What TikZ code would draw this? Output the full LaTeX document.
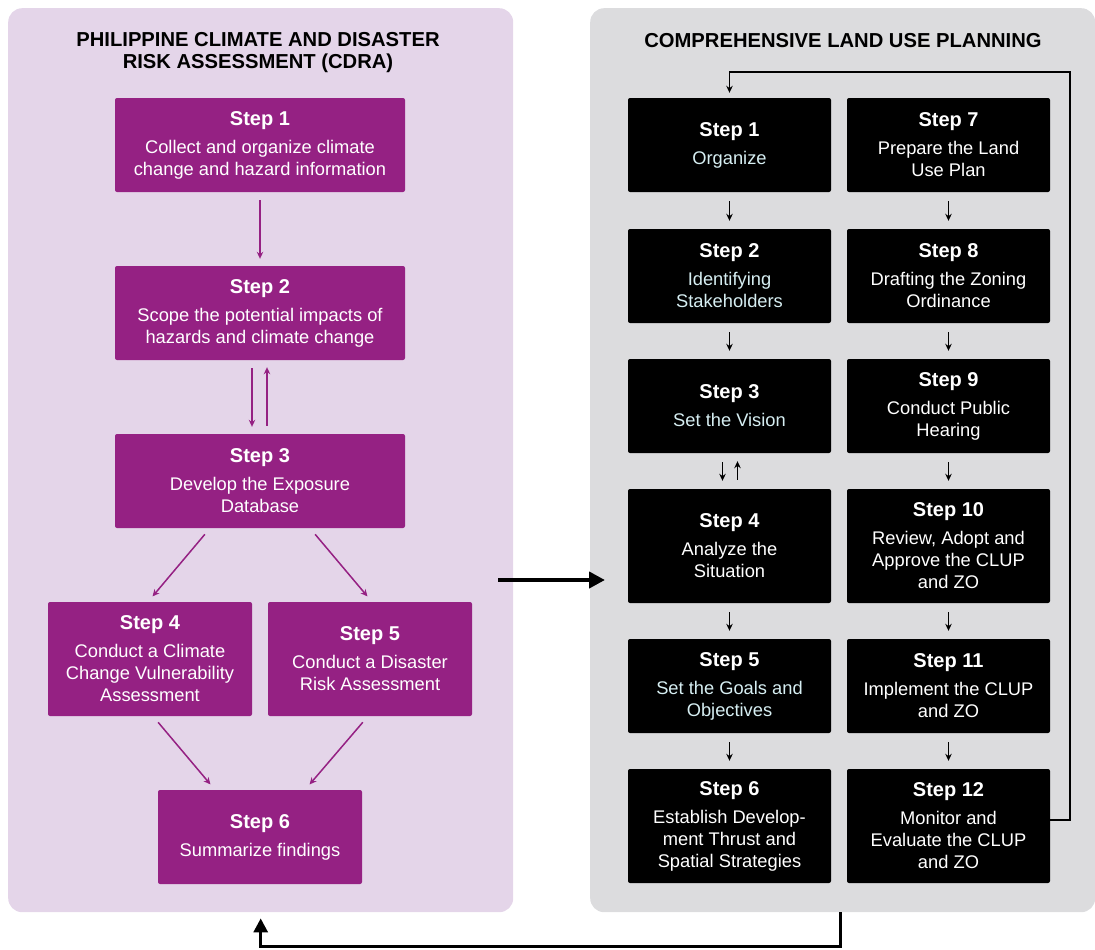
\documentclass[tikz,border=0pt]{standalone}
\usepackage{fontspec}
\setmainfont{Liberation Sans}
\usetikzlibrary{arrows.meta}

\definecolor{cdrapurple}{HTML}{952183}
\definecolor{cdrabg}{HTML}{E4D5E9}
\definecolor{clupbg}{HTML}{DCDCDE}
\definecolor{paleblue}{HTML}{D6EEF2}

\newcommand{\stepno}[1]{{\fontsize{20}{22}\selectfont\bfseries #1}\\[6pt]}

\begin{document}
\begin{tikzpicture}[x=1pt, y=-1pt, >={Stealth[length=7pt, width=6.5pt]},
  panel/.style={rounded corners=14pt, inner sep=0pt, anchor=north west},
  cdrastep/.style={fill=cdrapurple, text=white, rounded corners=2pt, inner sep=0pt,
    align=center, minimum width=#1, minimum height=94pt,
    font=\fontsize{18.3}{22}\selectfont},
  cdrastep/.default=290pt,
  clupstep/.style={fill=black, text=white, rounded corners=2pt, inner sep=0pt,
    align=center, minimum width=203pt, minimum height=#1,
    font=\fontsize{18.3}{22}\selectfont},
  clupstep/.default=94pt,
  cdraarrow/.style={->, draw=cdrapurple, line width=1.5pt, shorten <=8pt, shorten >=7pt},
  cluparrow/.style={->, line width=1.8pt, shorten <=9pt, shorten >=8pt},
  heading/.style={font=\fontsize{20.2}{22}\selectfont\bfseries, align=center}]

  \useasboundingbox (0,0) rectangle (1095,950);

  % panels
  \node[panel, fill=cdrabg, minimum width=505pt, minimum height=904pt] (cdra) at (8,8) {};
  \node[panel, fill=clupbg, minimum width=505pt, minimum height=904pt] (clup) at (590,8) {};

  \node[heading] (cdratitle) at (258,53) {PHILIPPINE CLIMATE AND DISASTER\\RISK ASSESSMENT (CDRA)};
  \node[heading] (cluptitle) at (843,41) {COMPREHENSIVE LAND USE PLANNING};

  % CDRA steps
  \node[cdrastep] (c1) at (260,145) {\stepno{Step 1}Collect and organize climate\\change and hazard information};
  \node[cdrastep] (c2) at (260,313) {\stepno{Step 2}Scope the potential impacts of\\hazards and climate change};
  \node[cdrastep] (c3) at (260,481) {\stepno{Step 3}Develop the Exposure\\Database};
  \node[cdrastep=204pt, minimum height=114pt] (c4) at (150,659) {\stepno{Step 4}Conduct a Climate\\Change Vulnerability\\Assessment};
  \node[cdrastep=204pt, minimum height=114pt] (c5) at (370,659) {\stepno{Step 5}Conduct a Disaster\\Risk Assessment};
  \node[cdrastep=204pt] (c6) at (260,837) {\stepno{Step 6}Summarize findings};

  \draw[cdraarrow] (c1) -- (c2);
  \draw[cdraarrow] ([xshift=-8pt]c2.south) -- ([xshift=-8pt]c3.north);
  \draw[cdraarrow] ([xshift=7pt]c3.north) -- ([xshift=7pt]c2.south);
  \draw[cdraarrow] ([xshift=-50pt]c3.south) -- ([xshift=-2pt]c4.north);
  \draw[cdraarrow] ([xshift=50pt]c3.south) -- ([xshift=2pt]c5.north);
  \draw[cdraarrow] ([xshift=3pt]c4.south) -- ([xshift=-45pt]c6.north);
  \draw[cdraarrow] ([xshift=-2pt]c5.south) -- ([xshift=45pt]c6.north);

  % CLUP steps, left column
  \node[clupstep] (p1) at (729.5,145) {\stepno{Step 1}\color{paleblue}Organize};
  \node[clupstep] (p2) at (729.5,276) {\stepno{Step 2}\color{paleblue}Identifying\\\color{paleblue}Stakeholders};
  \node[clupstep] (p3) at (729.5,406) {\stepno{Step 3}\color{paleblue}Set the Vision};
  \node[clupstep=114pt] (p4) at (729.5,546) {\stepno{Step 4}Analyze the\\Situation};
  \node[clupstep] (p5) at (729.5,686) {\stepno{Step 5}\color{paleblue}Set the Goals and\\\color{paleblue}Objectives};
  \node[clupstep=114pt] (p6) at (729.5,826) {\stepno{Step 6}Establish Develop-\\ment Thrust and\\Spatial Strategies};

  % CLUP steps, right column
  \node[clupstep] (p7) at (948.5,145) {\stepno{Step 7}Prepare the Land\\Use Plan};
  \node[clupstep] (p8) at (948.5,276) {\stepno{Step 8}Drafting the Zoning\\Ordinance};
  \node[clupstep] (p9) at (948.5,406) {\stepno{Step 9}Conduct Public\\Hearing};
  \node[clupstep=114pt] (p10) at (948.5,546) {\stepno{Step 10}Review, Adopt and\\Approve the CLUP\\and ZO};
  \node[clupstep] (p11) at (948.5,686) {\stepno{Step 11}Implement the CLUP\\and ZO};
  \node[clupstep=114pt] (p12) at (948.5,826) {\stepno{Step 12}Monitor and\\Evaluate the CLUP\\and ZO};

  \draw[cluparrow] (p1) -- (p2);
  \draw[cluparrow] (p2) -- (p3);
  \draw[cluparrow] ([xshift=-7pt]p3.south) -- ([xshift=-7pt]p4.north);
  \draw[cluparrow] ([xshift=8pt]p4.north) -- ([xshift=8pt]p3.south);
  \draw[cluparrow] (p4) -- (p5);
  \draw[cluparrow] (p5) -- (p6);
  \draw[cluparrow] (p7) -- (p8);
  \draw[cluparrow] (p8) -- (p9);
  \draw[cluparrow] (p9) -- (p10);
  \draw[cluparrow] (p10) -- (p11);
  \draw[cluparrow] (p11) -- (p12);

  % loop back to step 1
  \coordinate (loopright) at (1070,72);
  \draw[->, line width=1.8pt] ([yshift=6pt]p12.east) -| (loopright) -| ([yshift=5pt]p1.north);

  % CDRA feeds CLUP, CLUP back to CDRA
  \draw[-{Triangle[length=16pt, width=16pt]}, line width=4pt]
    ([xshift=-15pt]cdra.east |- 0,580) -- ([xshift=15pt]clup.west |- 0,580);
  \coordinate (loopout) at (840,912);
  \draw[-{Triangle[length=14pt, width=14pt]}, line width=3pt]
    (loopout) -- (840,946) -| ([yshift=-6pt]cdra.south);
\end{tikzpicture}
\end{document}
